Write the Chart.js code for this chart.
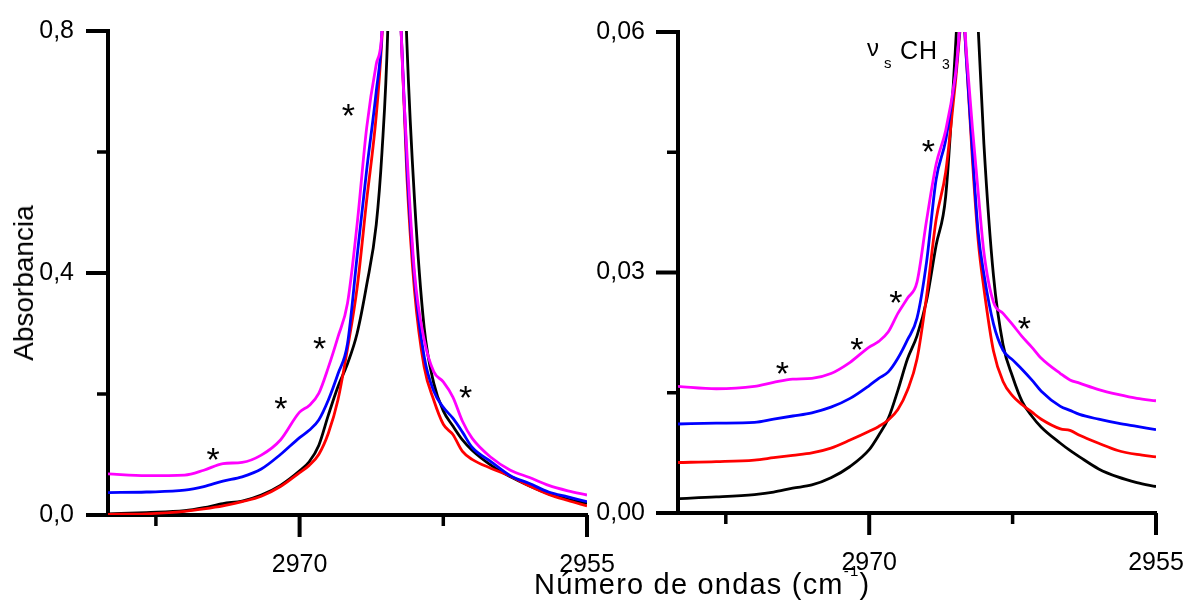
<!DOCTYPE html>
<html>
<head>
<meta charset="utf-8">
<script src="https://cdn.jsdelivr.net/npm/chart.js@4.4.1/dist/chart.umd.min.js"></script>
<style>
  html, body { margin:0; padding:0; background:#fff; }
  #wrap { position:relative; width:1186px; height:606px; overflow:hidden; font-family:'Liberation Sans', Arial, sans-serif; color:#000; }
  #wrap canvas { position:absolute; left:0; top:0; }
  .lbl { position:absolute; white-space:nowrap; }
</style>
</head>
<body>
<div id="wrap">
  <canvas id="ch-left" width="1186" height="606"></canvas>
  <canvas id="ch-right" width="1186" height="606"></canvas>
  <div class="lbl" style="left:24px;top:283px;font-size:28px;line-height:28px;transform:translate(-50%,-50%) rotate(-90deg)">Absorbancia</div>
  <div class="lbl" style="left:534px;top:570px;font-size:29px;line-height:29px;letter-spacing:1.2px">Número de ondas (cm<span style="font-size:15px;position:relative;top:-18px">-1</span>)</div>
  <div class="lbl" style="left:867px;top:36px;font-size:24px;line-height:24px">ν</div>
  <div class="lbl" style="left:884px;top:55px;font-size:15px;line-height:15px">s</div>
  <div class="lbl" style="left:900px;top:38px;font-size:25px;line-height:25px;letter-spacing:1px">CH</div>
  <div class="lbl" style="left:942px;top:57px;font-size:14px;line-height:14px">3</div>
</div>
<script>
// wavenumbers (cm-1) where the curves were read, left panel
const wnLeft = [2980, 2978, 2976, 2975, 2974, 2973, 2972, 2971, 2970, 2969.5,
  2969, 2968.5, 2968, 2967.5, 2967, 2966.5, 2966, 2965.7, 2965.4, 2965.2,
  2964.9, 2964.7, 2964.4, 2964, 2963.5, 2963, 2962.5, 2962, 2961.5, 2961,
  2960, 2959, 2958, 2957, 2956, 2955];
const magentaLeft = [0.068, 0.065, 0.066, 0.074, 0.085, 0.087, 0.099, 0.124, 0.170, 0.181,
  0.201, 0.244, 0.294, 0.350, 0.480, 0.640, 0.745, 0.800, 1.100, 1.300,
  1.050, 0.800, 0.600, 0.400, 0.290, 0.237, 0.220, 0.195, 0.155, 0.127,
  0.095, 0.074, 0.062, 0.049, 0.040, 0.033];
const blueLeft = [0.037, 0.038, 0.041, 0.047, 0.056, 0.063, 0.076, 0.100, 0.128, 0.140,
  0.157, 0.190, 0.233, 0.283, 0.427, 0.570, 0.700, 0.800, 1.100, 1.250,
  1.000, 0.800, 0.580, 0.390, 0.262, 0.205, 0.178, 0.160, 0.137, 0.112,
  0.088, 0.065, 0.052, 0.038, 0.030, 0.022];
const redLeft = [0.001, 0.002, 0.006, 0.010, 0.015, 0.022, 0.031, 0.047, 0.070, 0.082,
  0.100, 0.135, 0.190, 0.275, 0.375, 0.520, 0.660, 0.790, 1.000, 1.150,
  1.000, 0.800, 0.560, 0.370, 0.245, 0.190, 0.150, 0.133, 0.105, 0.092,
  0.077, 0.064, 0.048, 0.034, 0.024, 0.015];
const blackLeft = [0.002, 0.004, 0.007, 0.012, 0.019, 0.023, 0.033, 0.049, 0.073, 0.088,
  0.115, 0.165, 0.212, 0.250, 0.300, 0.380, 0.480, 0.600, 0.800, 1.100,
  1.450, 1.100, 0.780, 0.520, 0.310, 0.218, 0.172, 0.147, 0.124, 0.107,
  0.082, 0.063, 0.048, 0.035, 0.026, 0.019];

// right panel (zoomed absorbance)
const wnRight = [2980, 2978, 2976, 2975, 2974, 2973, 2972, 2971, 2970, 2969.5,
  2969, 2968.5, 2968, 2967.5, 2967, 2966.5, 2966, 2965.5, 2965.1, 2964.9,
  2964.6, 2964.3, 2964, 2963.5, 2963, 2962.5, 2962, 2961.5, 2961, 2960,
  2959.5, 2959, 2958, 2957, 2956, 2955];
const magentaRight = [0.0158, 0.0155, 0.0158, 0.0163, 0.0167, 0.0168, 0.0174, 0.0188, 0.0207, 0.0214,
  0.0226, 0.0249, 0.0268, 0.0288, 0.0365, 0.0435, 0.0477, 0.0545, 0.0630, 0.0570,
  0.0480, 0.0400, 0.0325, 0.0263, 0.0249, 0.0235, 0.0220, 0.0207, 0.0193, 0.0174,
  0.0166, 0.0162, 0.0154, 0.0148, 0.0143, 0.0140];
const blueRight = [0.0111, 0.0112, 0.0113, 0.0117, 0.0121, 0.0125, 0.0132, 0.0143, 0.0159, 0.0168,
  0.0176, 0.0193, 0.0216, 0.0243, 0.0313, 0.0416, 0.0465, 0.0544, 0.0625, 0.0560,
  0.0450, 0.0350, 0.0298, 0.0236, 0.0203, 0.0191, 0.0179, 0.0166, 0.0152, 0.0133,
  0.0128, 0.0123, 0.0117, 0.0112, 0.0108, 0.0104];
const redRight = [0.0063, 0.0064, 0.0066, 0.0069, 0.0072, 0.0075, 0.0081, 0.0091, 0.0102, 0.0108,
  0.0116, 0.0129, 0.0153, 0.0192, 0.0270, 0.0366, 0.0425, 0.0535, 0.0620, 0.0560,
  0.0440, 0.0340, 0.0280, 0.0202, 0.0164, 0.0146, 0.0135, 0.0126, 0.0117, 0.0105,
  0.0103, 0.0097, 0.0087, 0.0078, 0.0073, 0.0070];
const blackRight = [0.0018, 0.0020, 0.0023, 0.0026, 0.0031, 0.0035, 0.0044, 0.0058, 0.0079, 0.0097,
  0.0118, 0.0153, 0.0192, 0.0221, 0.0265, 0.0334, 0.0395, 0.0575, 0.0750, 0.0850,
  0.0720, 0.0605, 0.0460, 0.0296, 0.0210, 0.0170, 0.0139, 0.0121, 0.0107, 0.0087,
  0.0078, 0.0070, 0.0055, 0.0045, 0.0038, 0.0033];

// asterisks marking shoulders [wavenumber, absorbance]
const starsLeft = [[2974.52, 0.105], [2970.98, 0.190], [2968.96, 0.289], [2967.46, 0.675], [2961.33, 0.208]];
const starsRight = [[2974.54, 0.01845], [2970.64, 0.02147], [2968.60, 0.02736], [2966.90, 0.0462], [2961.88, 0.02405]];

const xTicks = [2977.5, 2970, 2962.5, 2955];
const xLabels = ['', '2970', '', '2955'];
const yTicksLeft = [0, 0.2, 0.4, 0.6, 0.8];
const yLabelsLeft = ['0,0', '', '0,4', '', '0,8'];
const yTicksRight = [0, 0.015, 0.03, 0.045, 0.06];
const yLabelsRight = ['0,00', '', '0,03', '', '0,06'];

const FONT = "'Liberation Sans', Arial, sans-serif";
const W = 1186, H = 606;

// outward tick marks: long where labelled, short otherwise
const tickMarks = {
  id: 'tickMarks',
  afterDraw(chart) {
    const ctx = chart.ctx, xs = chart.scales.x, ys = chart.scales.y;
    ctx.save();
    ctx.strokeStyle = '#000';
    xs.ticks.forEach(t => {
      const major = t.label !== '', px = xs.getPixelForValue(t.value);
      ctx.lineWidth = major ? 4 : 3.5;
      ctx.beginPath(); ctx.moveTo(px, xs.top); ctx.lineTo(px, xs.top + (major ? 22 : 11)); ctx.stroke();
    });
    ys.ticks.forEach(t => {
      const major = t.label !== '', py = ys.getPixelForValue(t.value);
      ctx.lineWidth = major ? 4 : 3.5;
      ctx.beginPath(); ctx.moveTo(ys.right, py); ctx.lineTo(ys.right - (major ? 22 : 11), py); ctx.stroke();
    });
    ctx.restore();
  }
};

function starPlugin(points) {
  return {
    id: 'stars',
    afterDatasetsDraw(chart) {
      const ctx = chart.ctx, xs = chart.scales.x, ys = chart.scales.y;
      ctx.save();
      ctx.fillStyle = '#000';
      ctx.font = `34px ${FONT}`;
      ctx.textAlign = 'center';
      ctx.textBaseline = 'alphabetic';
      points.forEach(([w, a]) => ctx.fillText('*', xs.getPixelForValue(w), ys.getPixelForValue(a) + 20));
      ctx.restore();
    }
  };
}

// labels may overhang the plot; keep the plot box where the layout puts it
function noOverhang(s) {
  s.paddingTop = s.paddingBottom = s.paddingLeft = s.paddingRight = 0;
}

function buildPanel(id, wn, series, yMax, yTicks, yLabels, stars, box) {
  return new Chart(document.getElementById(id), {
    type: 'line',
    data: { datasets: series.map(s => ({
      data: wn.map((x, i) => ({ x, y: s.values[i] })),
      borderColor: s.color, borderWidth: 2.8, pointRadius: 0,
      cubicInterpolationMode: 'monotone', fill: false
    })) },
    options: {
      responsive: false, animation: false, devicePixelRatio: 1,
      layout: { autoPadding: false, padding: { left: box.left - 100, right: W - box.right, top: box.top, bottom: 0 } },
      plugins: { legend: { display: false }, tooltip: { enabled: false } },
      scales: {
        x: {
          type: 'linear', min: 2955, max: 2980, reverse: true,
          grid: { display: false }, border: { display: true, width: 4, color: '#000' },
          afterBuildTicks: s => { s.ticks = xTicks.map(v => ({ value: v })); },
          afterFit: s => { s.height = H - box.bottom; noOverhang(s); },
          ticks: { autoSkip: false, maxRotation: 0, padding: 27, color: '#000',
                   font: { family: FONT, size: 25 }, callback: (v, i) => xLabels[i] }
        },
        y: {
          type: 'linear', min: 0, max: yMax,
          grid: { display: false }, border: { display: true, width: 4, color: '#000' },
          afterBuildTicks: s => { s.ticks = yTicks.map(v => ({ value: v })); },
          afterFit: s => { s.width = 100; noOverhang(s); },
          ticks: { autoSkip: false, padding: box.pad, color: '#000',
                   font: { family: FONT, size: 25 }, callback: (v, i) => yLabels[i] }
        }
      }
    },
    plugins: [tickMarks, starPlugin(stars)]
  });
}

buildPanel('ch-left', wnLeft, [
  { values: magentaLeft, color: '#ff00ff' },
  { values: blueLeft, color: '#0000ff' },
  { values: redLeft, color: '#ff0000' },
  { values: blackLeft, color: '#000000' }
], 0.8, yTicksLeft, yLabelsLeft, starsLeft, { left: 108, right: 587, top: 31, bottom: 515, pad: 26 });

buildPanel('ch-right', wnRight, [
  { values: magentaRight, color: '#ff00ff' },
  { values: blueRight, color: '#0000ff' },
  { values: redRight, color: '#ff0000' },
  { values: blackRight, color: '#000000' }
], 0.06, yTicksRight, yLabelsRight, starsRight, { left: 678, right: 1156, top: 32, bottom: 513, pad: 25 });
</script>
</body>
</html>
